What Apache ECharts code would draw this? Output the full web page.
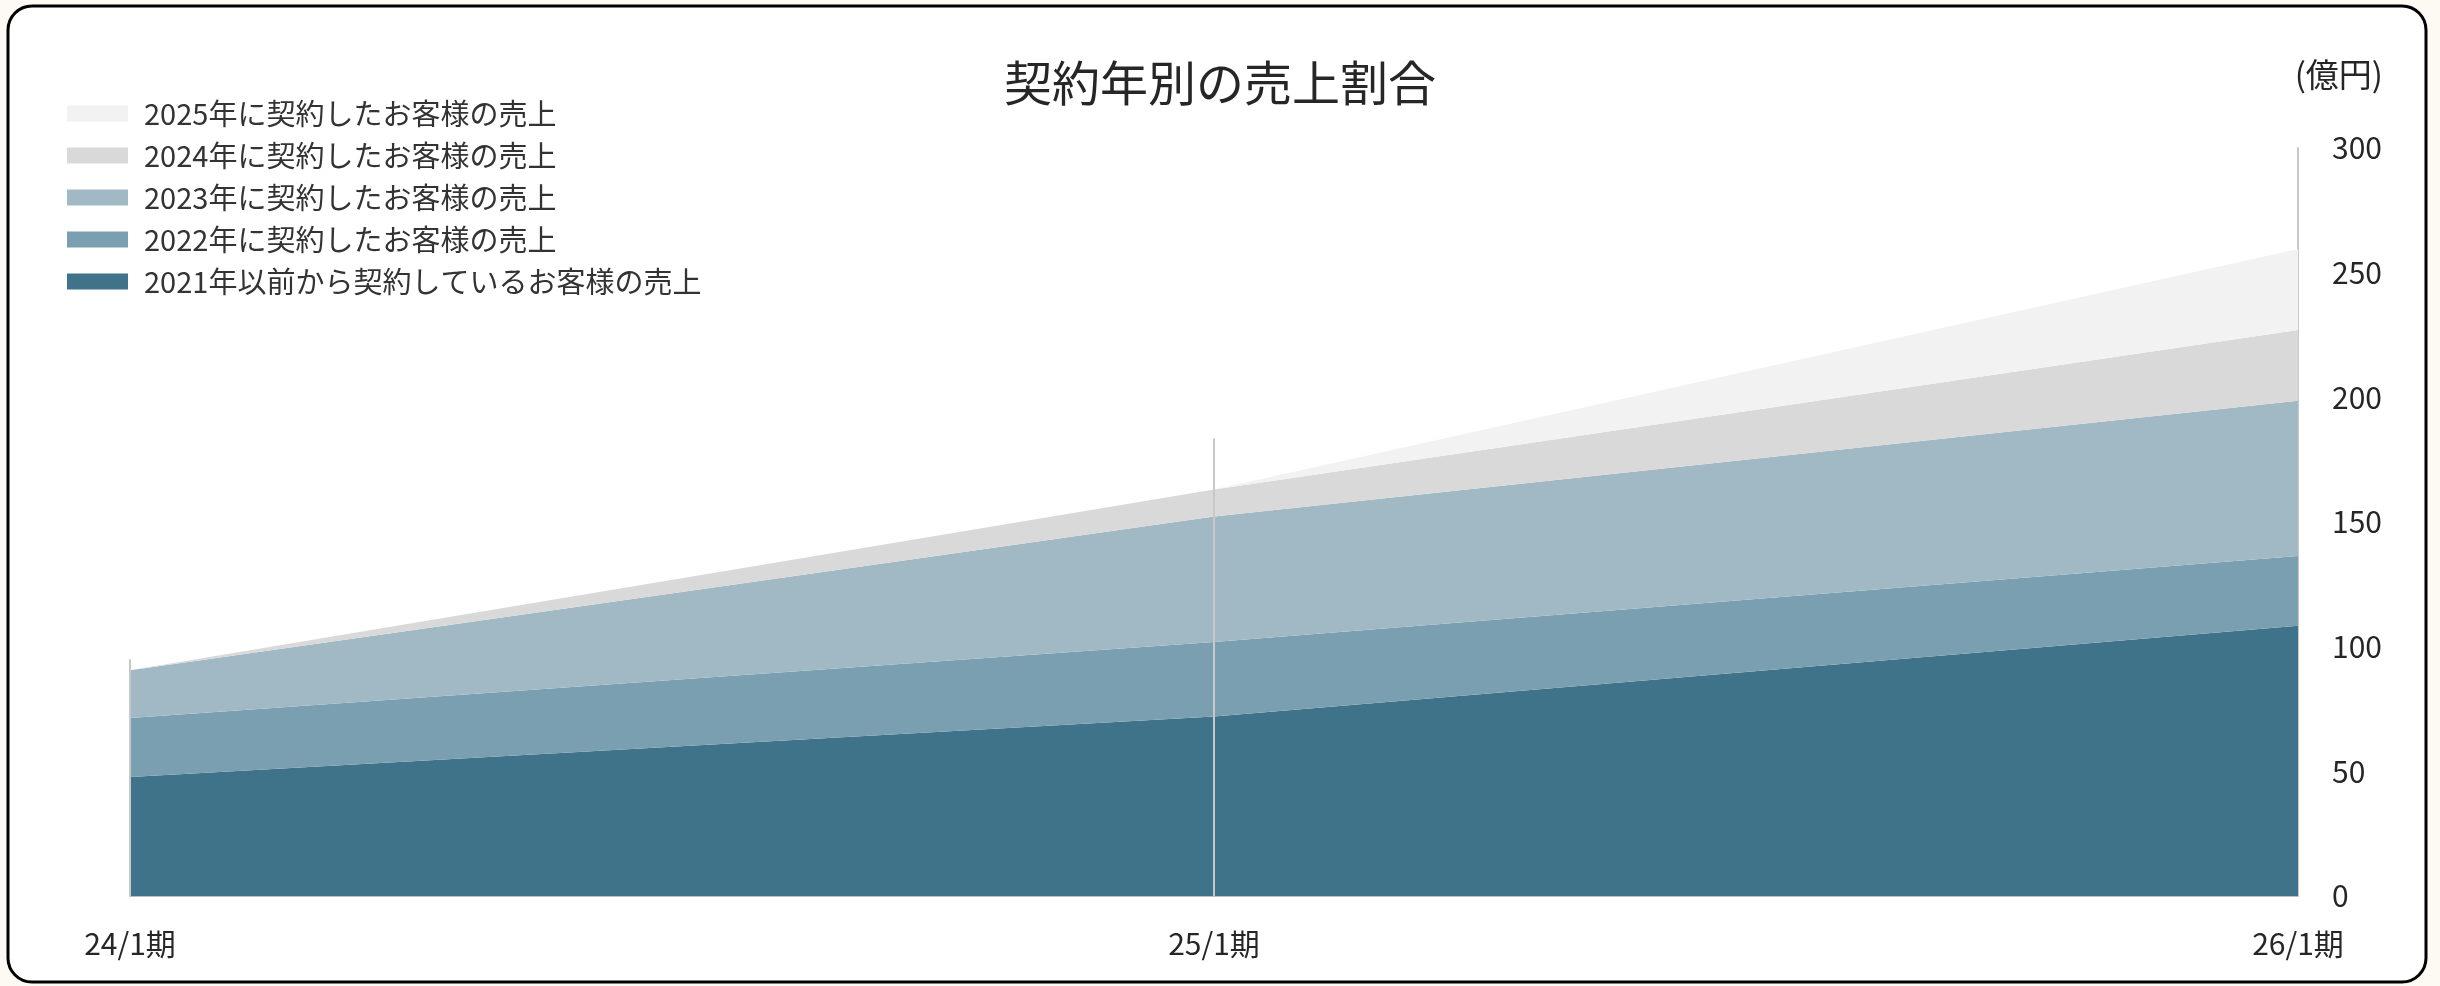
<!DOCTYPE html>
<html>
<head>
<meta charset="utf-8">
<script src="https://cdn.jsdelivr.net/npm/echarts@6/dist/echarts.min.js"></script>
<style>
html,body{margin:0;padding:0;background:#fdfaf4;}
#chart{width:2440px;height:986px;}
</style>
</head>
<body>
<div id="chart"></div>
<script>
const categories = ['24/1期', '25/1期', '26/1期'];
const seriesNames = [
  '2021年以前から契約しているお客様の売上',
  '2022年に契約したお客様の売上',
  '2023年に契約したお客様の売上',
  '2024年に契約したお客様の売上',
  '2025年に契約したお客様の売上'
];
const sales2021 = [47.7, 72.0, 108.4];
const sales2022 = [23.7, 29.9, 28.0];
const sales2023 = [19.1, 50.3, 62.2];
const sales2024 = [0, 10.8, 28.4];
const sales2025 = [0, 0, 32.5];
const guideTops = [95, 183.5, '-'];
const yTicks = [0, 50, 100, 150, 200, 250, 300];
const colors = ['#3e7389', '#7a9fb0', '#a1b8c5', '#d9d9d9', '#f2f2f2'];

const FONT = '"Noto Sans CJK JP", "Noto Sans", sans-serif';
const values = [sales2021, sales2022, sales2023, sales2024, sales2025];

const areaSeries = values.map((v, i) => ({
  name: seriesNames[i],
  type: 'line',
  stack: 'total',
  data: v,
  showSymbol: false,
  symbol: 'none',
  lineStyle: { width: 0, color: colors[i] },
  itemStyle: { color: colors[i] },
  areaStyle: { color: colors[i], opacity: 1 },
  z: 2
}));

const chart = echarts.init(document.getElementById('chart'));
chart.setOption({
  animation: false,
  backgroundColor: '#fdfaf4',
  textStyle: { fontFamily: FONT },
  graphic: [
    { type: 'rect', z: -10, silent: true,
      shape: { x: 8, y: 6, width: 2418, height: 976, r: 24 },
      style: { fill: '#ffffff', stroke: '#000000', lineWidth: 3 } },
    { type: 'text', z: 10, right: 57, top: 58,
      style: { text: '(億円)', font: '33px ' + FONT, fill: '#262626' } }
  ],
  title: {
    text: '契約年別の売上割合',
    left: 'center',
    top: 53,
    textStyle: { fontFamily: FONT, fontSize: 48, fontWeight: 'normal', color: '#262626', lineHeight: 50 }
  },
  legend: {
    data: seriesNames.slice().reverse(),
    orient: 'vertical',
    left: 62,
    top: 94,
    icon: 'rect',
    itemWidth: 61,
    itemHeight: 16,
    itemGap: 13,
    textStyle: { fontFamily: FONT, fontSize: 29, color: '#333333', lineHeight: 29, padding: [0, 0, 0, 11] }
  },
  grid: { left: 130, right: 142, top: 148, bottom: 90 },
  xAxis: {
    type: 'category',
    data: categories,
    boundaryGap: false,
    axisLine: { show: true, lineStyle: { color: '#bfbfbf', width: 2 } },
    axisTick: { show: false },
    splitLine: { show: false },
    axisLabel: { fontFamily: FONT, fontSize: 30, color: '#262626', margin: 33, lineHeight: 30 }
  },
  yAxis: {
    type: 'value',
    position: 'right',
    min: yTicks[0],
    max: yTicks[yTicks.length - 1],
    interval: yTicks[1] - yTicks[0],
    axisLine: { show: true, lineStyle: { color: '#c8c8c8', width: 2 } },
    axisTick: { show: false },
    splitLine: { show: false },
    axisLabel: { fontFamily: FONT, fontSize: 30, color: '#262626', margin: 34 }
  },
  series: areaSeries.concat([{
    name: 'guide',
    type: 'bar',
    data: guideTops,
    barWidth: 2,
    barGap: '-100%',
    itemStyle: { color: '#c8c8c8' },
    z: 5,
    silent: true
  }])
});
</script>
</body>
</html>
